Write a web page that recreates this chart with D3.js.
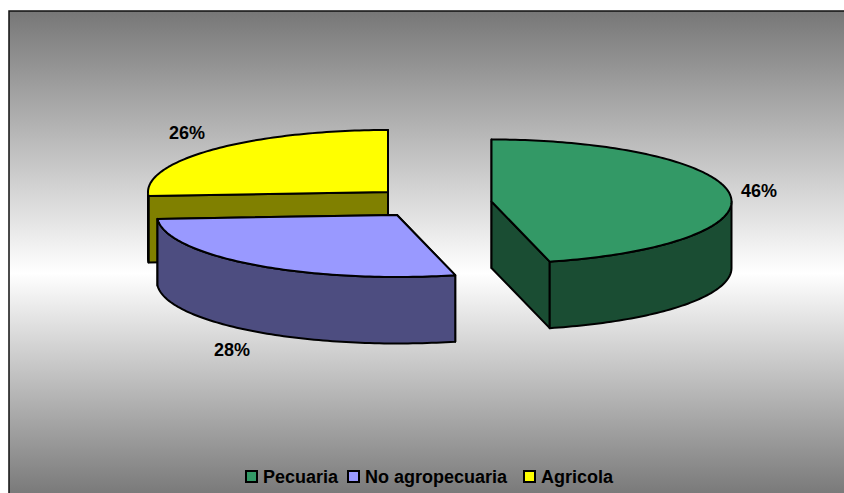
<!DOCTYPE html>
<html>
<head>
<meta charset="utf-8">
<script src="https://cdn.jsdelivr.net/npm/d3@7"></script>
<style>
html,body{margin:0;padding:0;background:#fff;overflow:hidden}
svg{display:block}
text{font-family:"Liberation Sans",Arial,sans-serif;font-weight:bold;fill:#000}
</style>
</head>
<body>
<div id="chart"></div>
<script>
// Data
const categories = ["Pecuaria", "No agropecuaria", "Agricola"];
const values = [46.1, 27.9, 26];
const topColors = ["#339966", "#9999FF", "#FFFF00"];
const sideColors = ["#1A4D33", "#4D4D80", "#808000"];
const titleFragments = ["g", "y"]; // only the descenders of the title survive the crop

// Layout
const W = 844, H = 493;
const frame = {x: 9, y: 11};
const rx = 240, ry = 62, depth = 66.5;
const centers = [[491.5, 201.5], [397, 215], [388, 192]];
const labelPos = [[759, 197], [232, 356], [187, 139]];
const legendSwatchX = [246, 348, 524];
const legendTextX = [263, 365, 541];
const fragmentPos = [[190, -9], [340, -9]];

const svg = d3.select("#chart").append("svg").attr("width", W).attr("height", H);
const defs = svg.append("defs");
const grad = defs.append("linearGradient").attr("id", "bg")
  .attr("x1", 0).attr("x2", 0).attr("y1", 0).attr("y2", 1);
grad.append("stop").attr("offset", 0).attr("stop-color", "#777");
grad.append("stop").attr("offset", 0.538).attr("stop-color", "#fff");
grad.append("stop").attr("offset", 1).attr("stop-color", "#777");

svg.append("g").selectAll("text").data(titleFragments).join("text")
  .attr("x", (d, i) => fragmentPos[i][0]).attr("y", (d, i) => fragmentPos[i][1])
  .style("font-size", "24px").text(d => d);

svg.append("rect").attr("x", frame.x).attr("y", frame.y)
  .attr("width", W - frame.x + 5).attr("height", H - frame.y + 5)
  .attr("fill", "url(#bg)").attr("stroke", "#111").attr("stroke-width", 1.5);

const arcs = d3.pie().sort(null).value(d => d)(values);
const line = d3.line();
const pt = (c, a, dz = 0) => [c[0] + rx * Math.sin(a), c[1] - ry * Math.cos(a) + dz];
const rim = (c, a0, a1, dz = 0) => {
  const n = Math.max(2, Math.ceil(Math.abs(a1 - a0) / 0.02));
  return d3.range(n + 1).map(i => pt(c, a0 + (a1 - a0) * i / n, dz));
};

const pies = svg.append("g").attr("stroke", "#000").attr("stroke-width", 2)
  .attr("stroke-linejoin", "round");

// Painted back to front: Agricola, No agropecuaria, Pecuaria
[2, 1, 0].forEach(i => {
  const a = arcs[i], c = centers[i], g = pies.append("g");
  const wall = ang => {
    const p = pt(c, ang), b = [c[0], c[1] + depth], q = pt(c, ang, depth);
    g.append("path").attr("d", line([c, p, q, b]) + "Z").attr("fill", sideColors[i]);
  };
  wall(a.startAngle);
  wall(a.endAngle);
  const s = Math.max(a.startAngle, Math.PI / 2), e = Math.min(a.endAngle, 3 * Math.PI / 2);
  if (e > s) {
    g.append("path")
      .attr("d", line(rim(c, s, e).concat(rim(c, e, s, depth))) + "Z")
      .attr("fill", sideColors[i]);
  }
  g.append("path")
    .attr("d", line([c].concat(rim(c, a.startAngle, a.endAngle))) + "Z")
    .attr("fill", topColors[i]);
});

svg.append("g").selectAll("text").data(values).join("text")
  .attr("x", (d, i) => labelPos[i][0]).attr("y", (d, i) => labelPos[i][1])
  .attr("text-anchor", "middle").style("font-size", "18px")
  .text(d => Math.round(d) + "%");

const legend = svg.append("g");
legend.selectAll("rect").data(categories).join("rect")
  .attr("x", (d, i) => legendSwatchX[i]).attr("y", 471)
  .attr("width", 11).attr("height", 11)
  .attr("fill", (d, i) => topColors[i]).attr("stroke", "#000").attr("stroke-width", 2);
legend.selectAll("text").data(categories).join("text")
  .attr("x", (d, i) => legendTextX[i]).attr("y", 483)
  .style("font-size", "18px").text(d => d);
</script>
</body>
</html>
